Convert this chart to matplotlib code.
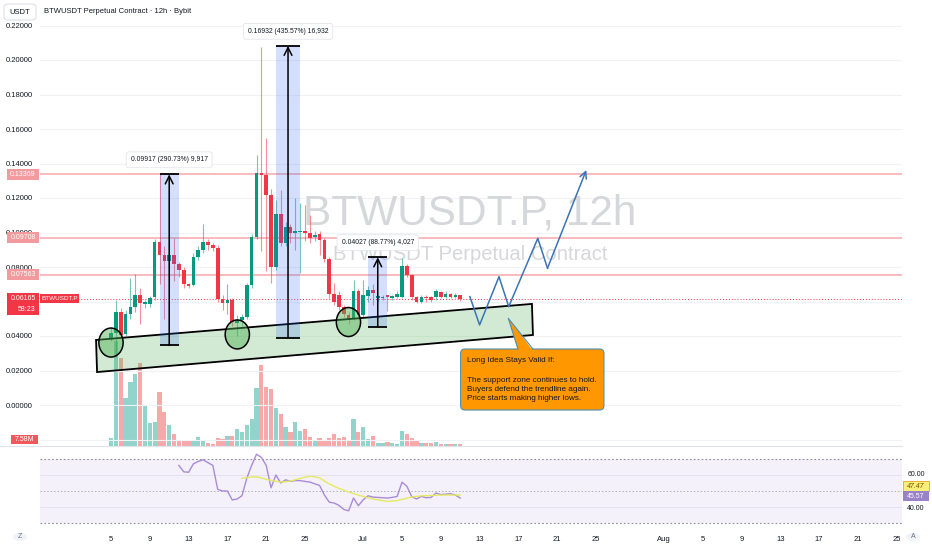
import numpy as np
import pandas as pd
import matplotlib
matplotlib.use('Agg')
import matplotlib.pyplot as plt
import matplotlib.dates as mdates
from matplotlib import font_manager
from matplotlib.patches import Rectangle, Polygon, Ellipse, FancyBboxPatch, Circle
from matplotlib.lines import Line2D

# ---- datos del grafico ----
candle_start = '2025-06-05 00:00'
candle_open = [0.0390, 0.0420, 0.0540, 0.0410, 0.0530, 0.0570, 0.0640, 0.0585, 0.0585, 0.0625,
               0.0945, 0.0870, 0.0835, 0.0870, 0.0820, 0.0780, 0.0700, 0.0695, 0.0858, 0.0899,
               0.0945, 0.0925, 0.0910, 0.0615, 0.0590, 0.0610, 0.0475, 0.0490, 0.0510, 0.0697,
               0.0975, 0.1345, 0.1333, 0.1217, 0.0800, 0.1110, 0.0940, 0.1030, 0.1000, 0.1002,
               0.1008, 0.1000, 0.0972, 0.0990, 0.0957, 0.0846, 0.0643, 0.0638, 0.0570, 0.0520,
               0.0500, 0.0660, 0.0520, 0.0633, 0.0667, 0.0622, 0.0622, 0.0635, 0.0622, 0.0625,
               0.0626, 0.0806, 0.0754, 0.0626, 0.0600, 0.0628, 0.0625, 0.0626, 0.0655, 0.0626,
               0.0645, 0.0625, 0.0635]
candle_high = [0.0450, 0.0610, 0.0560, 0.0550, 0.0736, 0.0760, 0.0680, 0.0610, 0.0630, 0.0960,
               0.1337, 0.0920, 0.0997, 0.0970, 0.0830, 0.0800, 0.0710, 0.0880, 0.0920, 0.1050,
               0.0960, 0.0940, 0.0930, 0.0640, 0.0700, 0.0620, 0.0520, 0.0530, 0.0710, 0.0990,
               0.1450, 0.2075, 0.1550, 0.1250, 0.1190, 0.1246, 0.1060, 0.1050, 0.1200, 0.1170,
               0.1160, 0.1100, 0.1010, 0.1010, 0.0970, 0.0860, 0.0710, 0.0660, 0.0580, 0.0540,
               0.0725, 0.0670, 0.0725, 0.0690, 0.0700, 0.0640, 0.0640, 0.0640, 0.0640, 0.0660,
               0.0850, 0.0820, 0.0760, 0.0630, 0.0640, 0.0635, 0.0630, 0.0670, 0.0660, 0.0660,
               0.0650, 0.0650, 0.0640]
candle_low = [0.0370, 0.0280, 0.0390, 0.0400, 0.0500, 0.0540, 0.0470, 0.0560, 0.0570, 0.0610,
              0.0700, 0.0500, 0.0800, 0.0720, 0.0740, 0.0680, 0.0680, 0.0690, 0.0840, 0.0880,
              0.0900, 0.0890, 0.0600, 0.0550, 0.0530, 0.0460, 0.0400, 0.0460, 0.0500, 0.0680,
              0.0960, 0.0890, 0.0775, 0.0710, 0.0780, 0.0920, 0.0920, 0.0940, 0.0900, 0.0765,
              0.0950, 0.0940, 0.0950, 0.0870, 0.0830, 0.0620, 0.0580, 0.0550, 0.0510, 0.0470,
              0.0490, 0.0500, 0.0510, 0.0600, 0.0580, 0.0600, 0.0610, 0.0545, 0.0610, 0.0620,
              0.0620, 0.0740, 0.0610, 0.0590, 0.0590, 0.0600, 0.0600, 0.0610, 0.0620, 0.0620,
              0.0620, 0.0620, 0.0605]
candle_close = [0.0420, 0.0540, 0.0405, 0.0530, 0.0570, 0.0640, 0.0590, 0.0600, 0.0620, 0.0945,
                0.0870, 0.0835, 0.0870, 0.0820, 0.0780, 0.0700, 0.0690, 0.0858, 0.0899, 0.0945,
                0.0925, 0.0910, 0.0615, 0.0590, 0.0610, 0.0480, 0.0490, 0.0510, 0.0697, 0.0975,
                0.1345, 0.1333, 0.1217, 0.0800, 0.1110, 0.0940, 0.1030, 0.1000, 0.1010, 0.1008,
                0.1000, 0.0968, 0.0985, 0.0957, 0.0846, 0.0643, 0.0597, 0.0570, 0.0527, 0.0490,
                0.0660, 0.0520, 0.0640, 0.0667, 0.0650, 0.0630, 0.0628, 0.0625, 0.0630, 0.0645,
                0.0806, 0.0754, 0.0626, 0.0600, 0.0626, 0.0618, 0.0610, 0.0660, 0.0626, 0.0645,
                0.0626, 0.0635, 0.06165]
volume_m = [33, 420, 353, 193, 257, 287, 332, 164, 91, 96,
            216, 137, 83, 47, 24, 20, 20, 20, 36, 20,
            11, 8, 33, 29, 40, 39, 67, 57, 85, 107,
            231, 324, 236, 227, 151, 127, 76, 56, 96, 60,
            67, 36, 24, 33, 24, 33, 47, 33, 36, 23,
            107, 56, 76, 29, 39, 12, 12, 15, 12, 9,
            60, 49, 32, 24, 12, 12, 12, 15, 9, 7,
            7, 7, 7.58]
rsi_first = 14
rsi_values = [66, 62, 61.7, 67, 68.5, 69.5, 67.7, 66, 51, 50,
              50, 44.4, 45, 47, 58, 66, 73, 71, 66, 52,
              60, 55, 57, 56, 56.5, 56.5, 56, 55.6, 54.5, 53.5,
              47.5, 43, 42.5, 41, 38.5, 37.6, 45.6, 40.8, 44.5, 47,
              46.2, 46, 45.8, 45.6, 46, 46.6, 55.5, 53, 46.5, 45,
              46.6, 45.8, 46, 48.7, 47.8, 48, 48.3, 47.5, 45.57]
ma_first = 27
rsi_ma_values = [57.9, 58.4, 58.8, 58.8, 58.2, 57.3, 56.6, 56, 55.6, 55.8,
                 56.2, 57, 57.9, 58.6, 59.2, 58.9, 58.2, 56.2, 54.4, 53,
                 51.6, 50.5, 49.3, 48.4, 47.4, 46.6, 45.8, 45, 44.5, 44,
                 43.5, 43.7, 44, 44.8, 45.5, 46.2, 46.6, 47, 47.1, 47.2,
                 47.4, 47.5, 47.5, 47.5, 47.5, 47.47]

level_prices = [0.13369, 0.09708, 0.07563]
last_price = 0.06165
price_ticks = [-0.02, 0.0, 0.02, 0.04, 0.06, 0.08, 0.10, 0.12, 0.14, 0.16, 0.18, 0.20, 0.22]
hidden_ticks = [-0.02, 0.06]   # tapados por las etiquetas rojas en la imagen
date_ticks = ['2025-06-05', '2025-06-09', '2025-06-13', '2025-06-17', '2025-06-21', '2025-06-25',
              '2025-07-01', '2025-07-05', '2025-07-09', '2025-07-13', '2025-07-17', '2025-07-21',
              '2025-07-25', '2025-08-01', '2025-08-05', '2025-08-09', '2025-08-13', '2025-08-17',
              '2025-08-21', '2025-08-25']
date_labels = ['5', '9', '13', '17', '21', '25', 'Jul', '5', '9', '13', '17', '21', '25',
               'Aug', '5', '9', '13', '17', '21', '25']

measure_start = ['2025-06-10 00:00', '2025-06-22 00:00', '2025-07-01 12:00']
measure_end = ['2025-06-12 00:00', '2025-06-24 12:00', '2025-07-03 12:00']
measure_low = [0.03452, 0.03887, 0.04537]
measure_high = [0.13369, 0.20819, 0.08564]
measure_text = ['0.09917 (290.73%) 9,917', '0.16932 (435.57%) 16,932', '0.04027 (88.77%) 4,027']

path_dates = ['2025-07-12', '2025-07-13', '2025-07-15', '2025-07-16', '2025-07-19', '2025-07-20', '2025-07-24']
path_prices = [0.0628, 0.0464, 0.0744, 0.0570, 0.0966, 0.0793, 0.1362]

# ---- fuente ----
names = {f.name for f in font_manager.fontManager.ttflist}
base_font = 'Liberation Sans Narrow' if 'Liberation Sans Narrow' in names else 'Liberation Sans'
plt.rcParams['font.family'] = [base_font, 'DejaVu Sans']

W, H = 932, 550
fig = plt.figure(figsize=(W / 100, H / 100), dpi=100)
fig.patch.set_facecolor('white')

def fr(x0, y0, x1, y1):
    return [x0 / W, 1 - y1 / H, (x1 - x0) / W, (y1 - y0) / H]

ax_vol = fig.add_axes(fr(40, 20, 902, 446))
ax = fig.add_axes(fr(40, 20, 902, 446))
ax_rsi = fig.add_axes(fr(40, 447, 902, 530))
ax_vol.set_zorder(1)
ax.set_zorder(2)
ax.patch.set_visible(False)

d0 = mdates.date2num(pd.Timestamp('2025-06-01'))
px_day = 9.7
xlim = (d0 + (40 - 72.2) / px_day, d0 + (902 - 72.2) / px_day)
for a in (ax, ax_vol, ax_rsi):
    a.set_xlim(*xlim)
    for s in a.spines.values():
        s.set_visible(False)
    a.set_xticks([])
ax.set_ylim((405 - 446) / 1725, (405 - 20) / 1725)
ax_vol.set_ylim(0, 426 / 0.25)
ax_vol.set_yticks([])
ax_rsi.set_ylim(50 - (530 - 491) / 1.6, 50 + (491 - 447) / 1.6)
ax_rsi.set_yticks([])

def dn(s):
    return mdates.date2num(pd.Timestamp(s))

t = mdates.date2num(pd.date_range(candle_start, periods=len(candle_open), freq='12h'))
o = np.array(candle_open); hi = np.array(candle_high)
lo = np.array(candle_low); c = np.array(candle_close)
up = c >= o
GREEN, RED = '#089981', '#f23645'
col = np.where(up, GREEN, RED)

# volumen
vcol = np.where(up, '#92d3cb', '#f7a9a9')
ax_vol.bar(t, volume_m, width=0.44, color=vcol, linewidth=0)

# rejilla y eje de precios
ax.set_yticks(price_ticks)
ax.yaxis.set_major_formatter(lambda v, pos: '' if any(abs(v - h) < 1e-9 for h in hidden_ticks) else f'{v:.5f}')
ax.tick_params(axis='y', length=0, pad=5, labelsize=5.5, labelcolor='#131722')
for p in price_ticks:
    ax.axhline(p, color='#f1f2f5', lw=0.8, zorder=0.2)

# marca de agua
ax.text(dn('2025-07-12'), (405 - 225) / 1725, 'BTWUSDT.P, 12h', ha='center', va='baseline',
        fontsize=30.5, color='#d6d7db', zorder=0.3)
ax.text(dn('2025-07-12'), (405 - 260) / 1725, 'BTWUSDT Perpetual Contract', ha='center',
        va='baseline', fontsize=14.6, color='#d6d7db', zorder=0.3)

# niveles horizontales
for p in level_prices:
    ax.axhline(p, color='#f7a8ab', lw=1.1, zorder=1)
ax.axhline(last_price, color=RED, lw=0.7, ls=(0, (1, 2)), zorder=1)

# velas
ax.vlines(t, lo, hi, colors=col, lw=0.8, alpha=0.55, zorder=2)
body = np.maximum(np.abs(c - o), 0.0006)
ax.bar(t, body, bottom=np.minimum(o, c), width=0.38, color=col, linewidth=0, zorder=2.1)

# zona de soporte
zone = Polygon([(dn('2025-06-03 11:00'), 0.0377), (dn('2025-07-18 09:30'), 0.0586),
                (dn('2025-07-18 12:00'), 0.0406), (dn('2025-06-03 13:30'), 0.0191)],
               closed=True, fc=(76/255, 175/255, 80/255, 0.25), ec='black', lw=1.3, zorder=3)
ax.add_patch(zone)
for cx, cy in [('2025-06-05 00:00', 0.0362), ('2025-06-18 00:30', 0.0409), ('2025-06-29 11:30', 0.0481)]:
    ax.add_patch(Ellipse((dn(cx), cy), 2.5, 0.0168, fc=(76/255, 175/255, 80/255, 0.45),
                         ec='black', lw=1.1, zorder=4))

# mediciones
for s, e, l, h, txt in zip(measure_start, measure_end, measure_low, measure_high, measure_text):
    x0, x1 = dn(s), dn(e)
    xc = (x0 + x1) / 2
    ax.add_patch(Rectangle((x0, l), x1 - x0, h - l, fc=(41/255, 98/255, 1, 0.2), ec='none', zorder=3.5))
    ax.hlines([l, h], x0, x1, colors='black', lw=1.3, zorder=5)
    ax.annotate('', xy=(xc, h), xytext=(xc, l),
                arrowprops=dict(arrowstyle='->', lw=1.1, color='black', shrinkA=0, shrinkB=0,
                                mutation_scale=14), zorder=5)
    ax.annotate(txt, xy=(xc, h), xytext=(0, 10.5), textcoords='offset points', ha='center',
                va='center', fontsize=4.9, color='#131722', zorder=6,
                bbox=dict(boxstyle='round,pad=0.65,rounding_size=0.35', fc='white', ec='#e3e5ea', lw=0.6))

# proyeccion
px_ = [dn(d) for d in path_dates]
ax.plot(px_[:-1], path_prices[:-1], color='#3b73b5', lw=1.1, zorder=5)
ax.annotate('', xy=(px_[-1], path_prices[-1]), xytext=(px_[-2], path_prices[-2]),
            arrowprops=dict(arrowstyle='->', lw=1.1, color='#3b73b5', shrinkA=0, shrinkB=0,
                            mutation_scale=12), zorder=5)

# nota naranja
bx0, bx1 = dn('2025-07-11 01:00'), dn('2025-07-25 19:40')
by0, by1 = -0.0029, 0.03246
ORANGE, EDGE = '#ff9800', '#4f8fb0'
ax.add_patch(FancyBboxPatch((bx0, by0), bx1 - bx0, by1 - by0,
                            boxstyle='round,pad=0,rounding_size=0.45', mutation_aspect=0.0058,
                            fc=ORANGE, ec=EDGE, lw=0.8, zorder=6))
tip = (dn('2025-07-15 23:00'), 0.05026)
bl, br = dn('2025-07-16 23:00'), dn('2025-07-18 12:00')
ax.add_patch(Polygon([(bl, by1 - 0.001), tip, (br, by1 - 0.001)], closed=True, fc=ORANGE, ec='none', zorder=6.1))
ax.plot([bl, tip[0], br], [by1, tip[1], by1], color=EDGE, lw=0.8, zorder=6.2)
tx = dn('2025-07-11 17:00')
for yy, line in [(360.7, 'Long Idea Stays Valid If:'), (380, 'The support zone continues to hold.'),
                 (389.3, 'Buyers defend the trendline again.'), (398.3, 'Price starts making higher lows.')]:
    ax.text(tx, (405 - yy) / 1725, line, ha='left', va='center', fontsize=5.9, color='#131722', zorder=7)

# panel RSI
ax_rsi.axhspan(30, 70, color='#7e57c2', alpha=0.08, lw=0)
for lv in (60, 40):
    ax_rsi.axhline(lv, color='#e4dff0', lw=0.6)
ax_rsi.axhline(70, color='#8c8f99', lw=0.8, ls=(0, (1.5, 2)))
ax_rsi.axhline(30, color='#8c8f99', lw=0.8, ls=(0, (1.5, 2)))
ax_rsi.axhline(50, color='#b0b2ba', lw=0.7, ls=(0, (1.5, 2)))
ax_rsi.plot(t[rsi_first:rsi_first + len(rsi_values)], rsi_values, color='#a98bd6', lw=1.0)
ax_rsi.plot(t[ma_first:ma_first + len(rsi_ma_values)], rsi_ma_values, color='#e4ea62', lw=1.0)
ax_rsi.set_xticks([dn(d) for d in date_ticks])
ax_rsi.set_xticklabels(date_labels)
ax_rsi.tick_params(axis='x', length=0, pad=4, labelsize=5.5, labelcolor='#131722')

# separador
fig.add_artist(Line2D([0, 902 / W], [1 - 446 / H] * 2, color='#e0e3eb', lw=0.8))

# etiquetas (en pixeles)
def ypx(a, v):
    return H - a.transData.transform((xlim[0], v))[1]

def tag(x0, x1, y0, y1, fc, ec='none'):
    fig.add_artist(Rectangle((x0 / W, 1 - y1 / H), (x1 - x0) / W, (y1 - y0) / H, fc=fc, ec=ec,
                             lw=0.6, transform=fig.transFigure, zorder=20))

def ftext(x, y, s, **kw):
    kw.setdefault('zorder', 21)
    fig.text(x / W, 1 - y / H, s, **kw)

for p in level_prices:
    y = ypx(ax, p)
    tag(7, 39, y - 5.3, y + 5.3, '#f39a9e')
    ftext(23, y, f'{p:.5f}', ha='center', va='center', fontsize=5, color='white')
y = ypx(ax, last_price)
tag(7, 39, y - 5.6, y + 16.4, RED)
ftext(23, y, f'{last_price:.5f}', ha='center', va='center', fontsize=5, color='white')
ftext(27, y + 10.5, '58:23', ha='center', va='center', fontsize=5, color='white')
tag(40, 79, y - 4.6, y + 4.8, RED)
ftext(59.5, y, 'BTWUSDT.P', ha='center', va='center', fontsize=4.6, color='white')
y = ypx(ax, -0.02)
tag(11, 38, y - 4.8, y + 4.8, '#f0585e')
ftext(24.5, y, '7.58M', ha='center', va='center', fontsize=5, color='white')

# etiquetas RSI (desplazadas para no taparse, como en la imagen)
ftext(916, ypx(ax_rsi, 60), '60.00', ha='center', va='center', fontsize=5, color='#131722')
ftext(916, ypx(ax_rsi, 40) + 1, '40.00', ha='center', va='center', fontsize=5, color='#131722')
tag(903, 929, 481, 491, '#f6f07a', ec='#f0a020')
ftext(916, 486, f'{rsi_ma_values[-1]:.2f}', ha='center', va='center', fontsize=5, color='#7a4a00', style='italic')
tag(903, 929, 491, 501, '#9a82c9')
ftext(916, 496, f'{rsi_values[-1]:.2f}', ha='center', va='center', fontsize=5, color='white')

# cabecera y botones
fig.add_artist(Rectangle((0, 1 - 21 / H), 40 / W, 21 / H, fc='white', ec='none',
                         transform=fig.transFigure, zorder=19))
fig.add_artist(FancyBboxPatch((4 / W, 1 - 20 / H), 32 / W, 16 / H,
                              boxstyle='round,pad=0,rounding_size=0.004', mutation_aspect=W / H,
                              fc='white', ec='#d9dce3', lw=0.7, transform=fig.transFigure, zorder=20))
ftext(20, 12, 'USDT', ha='center', va='center', fontsize=5.5, color='#131722')
ftext(44, 11.5, 'BTWUSDT Perpetual Contract · 12h · Bybit', ha='left', va='center', fontsize=5.5, color='#131722')
for bx, ch in [(20, 'Z'), (913, 'A')]:
    fig.add_artist(Circle((bx / W, 1 - 537 / H), 7 / W, fc='#f0f3fa', ec='none',
                          transform=fig.transFigure, zorder=20))
    ftext(bx, 537, ch, ha='center', va='center', fontsize=5, color='#6a6d78')

fig.savefig('out.png', dpi=100)
